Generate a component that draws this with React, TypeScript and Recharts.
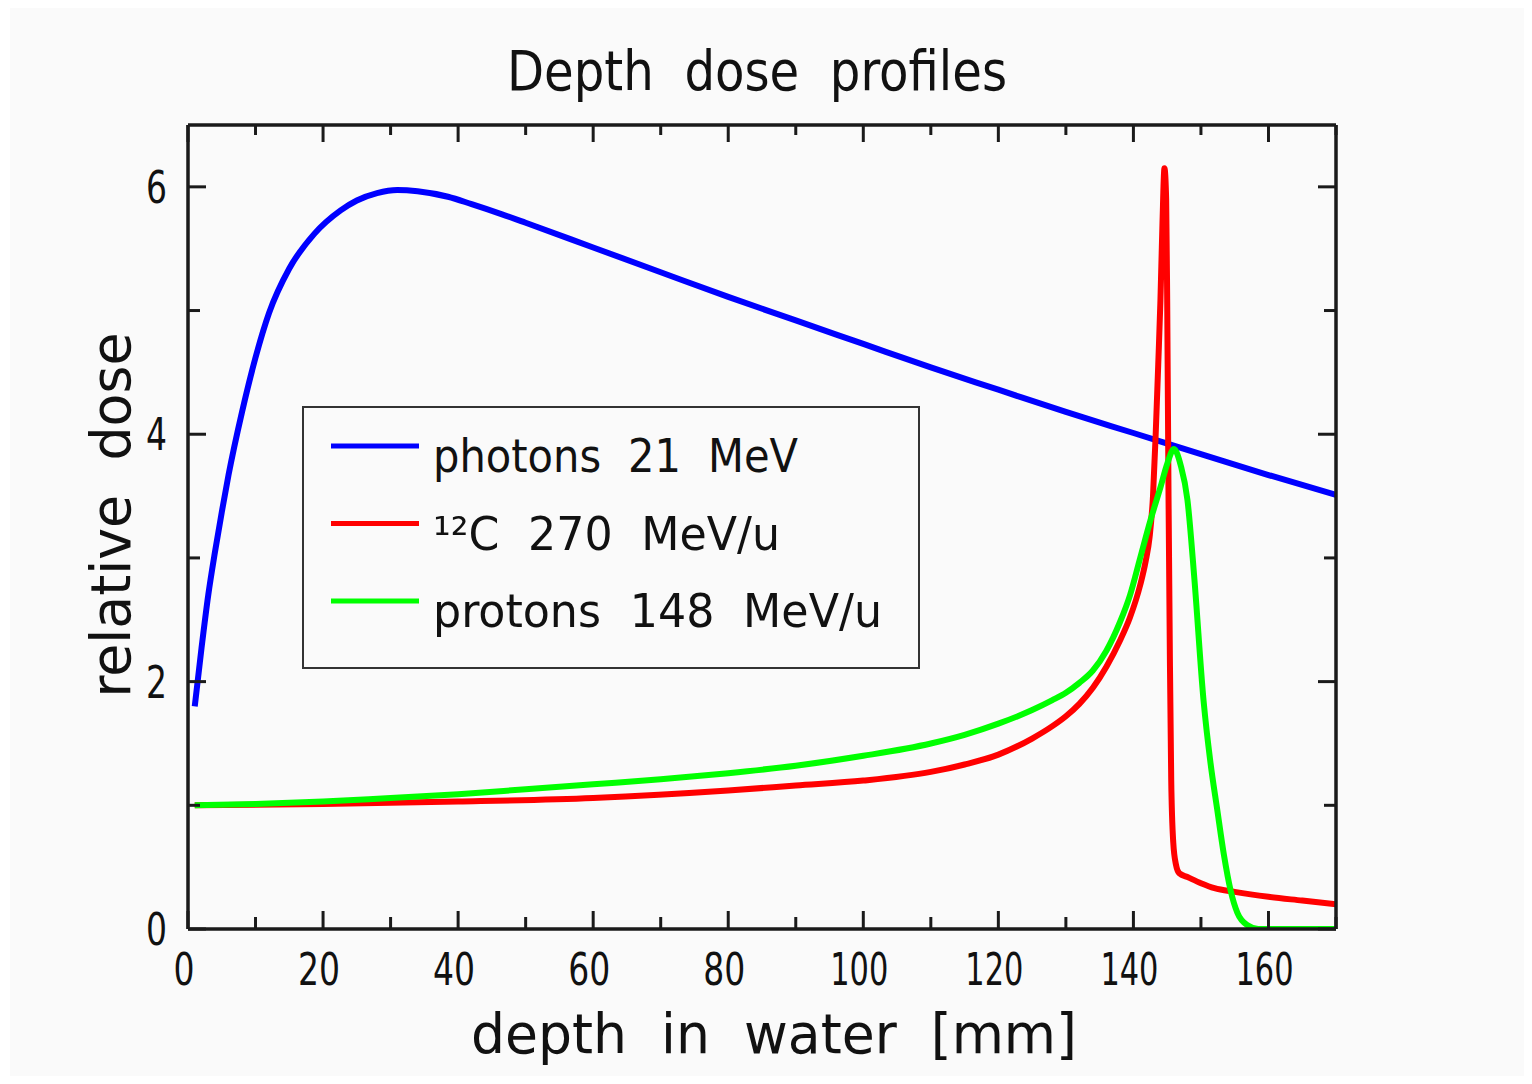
import { LineChart, Line, XAxis, YAxis, Legend } from "recharts"

const FONT = '"DejaVu Sans Condensed", "DejaVu Sans", sans-serif'
const INK = "#1a1a1a"
const PANEL = "#fafafa"

// depth in mm, relative dose
const photonDepth = [1, 2, 3, 4, 5, 6, 8, 10, 12, 15, 18.7, 22.6, 25, 28, 31, 34, 38.5, 42, 46.4, 50, 60, 70, 80, 90, 100, 110, 120, 130, 140, 150, 160, 170]
const photonDose = [1.8, 2.27, 2.7, 3.05, 3.37, 3.67, 4.18, 4.62, 4.98, 5.34, 5.62, 5.81, 5.89, 5.95, 5.975, 5.965, 5.92, 5.86, 5.78, 5.71, 5.51, 5.31, 5.11, 4.92, 4.73, 4.54, 4.36, 4.18, 4.01, 3.84, 3.67, 3.51]

const carbonDepth = [1, 20, 40, 60, 80, 90, 100, 110, 115, 120, 125, 128, 130, 132, 134, 136, 138, 139.5, 141, 141.8, 142.4, 142.9, 143.3, 143.7, 144.0, 144.3, 144.6, 144.85, 145.0, 145.2, 145.4, 145.6, 145.9, 146.3, 146.8, 148, 150, 152, 155, 160, 165, 170]
const carbonDose = [1.0, 1.01, 1.03, 1.06, 1.12, 1.16, 1.2, 1.27, 1.33, 1.41, 1.54, 1.64, 1.72, 1.82, 1.95, 2.12, 2.33, 2.52, 2.78, 2.97, 3.17, 3.5, 4.0, 4.6, 5.08, 5.7, 6.15, 5.9, 5.1, 3.5, 2.2, 1.2, 0.7, 0.52, 0.45, 0.42, 0.37, 0.33, 0.3, 0.26, 0.23, 0.2]

const protonDepth = [1, 10, 20, 30, 40, 50, 60, 70, 80, 90, 100, 110, 115, 120, 125, 128, 130, 132, 134, 136, 138, 139.5, 141, 142.5, 144, 145, 146, 147, 148, 149, 150.4, 151.4, 152.4, 153.4, 154.4, 155.4, 156.9, 158.5, 165, 170]
const protonDose = [1.0, 1.01, 1.03, 1.06, 1.09, 1.13, 1.17, 1.21, 1.26, 1.32, 1.4, 1.5, 1.57, 1.66, 1.77, 1.85, 1.91, 1.99, 2.09, 2.25, 2.48, 2.7, 3.0, 3.3, 3.57, 3.76, 3.88, 3.75, 3.47, 2.85, 1.84, 1.35, 0.97, 0.6, 0.31, 0.13, 0.03, 0, 0, 0]

const seriesNames = ["photons 21 MeV", "\u00B9\u00B2C 270 MeV/u", "protons 148 MeV/u"]
const seriesColors = ["#0000ff", "#ff0000", "#00ff00"]
const legendWidths = [365, 347, 449]

const xTicks = [0, 10, 20, 30, 40, 50, 60, 70, 80, 90, 100, 110, 120, 130, 140, 150, 160, 170]
const yTicks = [0, 1, 2, 3, 4, 5, 6]

const toPoints = (depth: number[], dose: number[]) => depth.map((d, i) => ({ depth: d, dose: dose[i] }))

const series = [
  toPoints(photonDepth, photonDose),
  toPoints(carbonDepth, carbonDose),
  toPoints(protonDepth, protonDose),
]

const textStyle = { fontFamily: FONT, fill: "#111" }

const digitWidth = (v: number) => {
  const s = String(v)
  return s.length * 21 - (s.split("1").length - 1) * 5
}

function BottomTick({ x, y, payload }: any) {
  const major = payload.value % 20 === 0
  return (
    <g>
      <line x1={x} y1={y} x2={x} y2={y - (major ? 18 : 12)} stroke={INK} strokeWidth={3} />
      {major && (
        <text x={x - 4} y={y + 56} textAnchor="middle" fontSize={45} textLength={digitWidth(payload.value)} lengthAdjust="spacingAndGlyphs" style={textStyle}>
          {payload.value}
        </text>
      )}
    </g>
  )
}

function TopTick({ x, y, payload }: any) {
  const major = payload.value % 20 === 0
  return <line x1={x} y1={y} x2={x} y2={y + (major ? 17 : 10)} stroke={INK} strokeWidth={3} />
}

function LeftTick({ x, y, payload }: any) {
  const major = payload.value % 2 === 0
  return (
    <g>
      <line x1={x} y1={y} x2={x + (major ? 18 : 12)} y2={y} stroke={INK} strokeWidth={3} />
      {major && (
        <text x={x - 21} y={y + 16} textAnchor="end" fontSize={45} textLength={digitWidth(payload.value)} lengthAdjust="spacingAndGlyphs" style={textStyle}>
          {payload.value}
        </text>
      )}
    </g>
  )
}

function RightTick({ x, y, payload }: any) {
  const major = payload.value % 2 === 0
  return <line x1={x} y1={y} x2={x - (major ? 18 : 12)} y2={y} stroke={INK} strokeWidth={3} />
}

function DoseLegend({ payload }: any) {
  const items = [...(payload || [])]
    .filter((e: any) => seriesNames.includes(e.value))
    .sort((a: any, b: any) => seriesNames.indexOf(a.value) - seriesNames.indexOf(b.value))
  return (
    <svg width={618} height={263}>
      <rect x={1} y={1} width={616} height={261} fill={PANEL} stroke="#333" strokeWidth={2} />
      {items.map((entry: any, i: number) => (
        <g key={entry.value}>
          <line x1={29} x2={117} y1={40 + i * 77.5} y2={40 + i * 77.5} stroke={entry.color} strokeWidth={5} />
          <text
            x={131}
            y={66 + i * 77.5}
            fontSize={47}
            textLength={legendWidths[seriesNames.indexOf(entry.value)]}
            lengthAdjust="spacingAndGlyphs"
            style={{ ...textStyle, wordSpacing: 14 }}
          >
            {entry.value}
          </text>
        </g>
      ))}
    </svg>
  )
}

const titleStyle = { ...textStyle, wordSpacing: 16 }

export default function App() {
  return (
    <div style={{ margin: -8, width: 1532, height: 1084, background: "#fff", position: "relative" }}>
      <div style={{ position: "absolute", left: 10, top: 3, width: 1522, height: 1081, background: PANEL }} />
      <div style={{ position: "absolute", left: 0, top: 0 }}>
        <LineChart width={1532} height={1084} margin={{ top: 124, right: 195, bottom: 95, left: 88 }}>
          <XAxis
            xAxisId="bottom"
            dataKey="depth"
            type="number"
            domain={[0, 170]}
            ticks={xTicks}
            interval={0}
            height={60}
            tickSize={0}
            tickMargin={0}
            tickLine={false}
            tick={<BottomTick />}
            axisLine={{ stroke: INK, strokeWidth: 3.5 }}
            allowDataOverflow
            label={{
              content: ({ viewBox }: any) => (
                <text x={viewBox.x + viewBox.width / 2 + 12} y={viewBox.y + 124} textAnchor="middle" fontSize={56} textLength={606} lengthAdjust="spacingAndGlyphs" style={titleStyle}>
                  depth in water [mm]
                </text>
              ),
            }}
          />
          <XAxis
            xAxisId="top"
            orientation="top"
            dataKey="depth"
            type="number"
            domain={[0, 170]}
            ticks={xTicks}
            interval={0}
            height={1}
            tickSize={0}
            tickMargin={0}
            tickLine={false}
            tick={<TopTick />}
            axisLine={{ stroke: INK, strokeWidth: 3.5 }}
            allowDataOverflow
            label={{
              content: ({ viewBox }: any) => (
                <text x={viewBox.x + viewBox.width / 2 - 5} y={viewBox.y - 34} textAnchor="middle" fontSize={56} textLength={500} lengthAdjust="spacingAndGlyphs" style={titleStyle}>
                  Depth dose profiles
                </text>
              ),
            }}
          />
          <YAxis
            yAxisId="left"
            type="number"
            domain={[0, 6.5]}
            ticks={yTicks}
            interval={0}
            width={100}
            tickSize={0}
            tickMargin={0}
            tickLine={false}
            tick={<LeftTick />}
            axisLine={{ stroke: INK, strokeWidth: 3.5 }}
            allowDataOverflow
            label={{
              content: ({ viewBox }: any) => {
                const cx = viewBox.x + 42
                const cy = viewBox.y + viewBox.height / 2 - 12
                return (
                  <text x={cx} y={cy} transform={`rotate(-90, ${cx}, ${cy})`} textAnchor="middle" fontSize={55} textLength={365} lengthAdjust="spacingAndGlyphs" style={titleStyle}>
                    relative dose
                  </text>
                )
              },
            }}
          />
          <YAxis
            yAxisId="right"
            orientation="right"
            type="number"
            domain={[0, 6.5]}
            ticks={yTicks}
            interval={0}
            width={1}
            tickSize={0}
            tickMargin={0}
            tickLine={false}
            tick={<RightTick />}
            axisLine={{ stroke: INK, strokeWidth: 3.5 }}
            allowDataOverflow
          />
          <Legend
            layout="horizontal"
            verticalAlign="middle"
            align="center"
            content={<DoseLegend />}
            wrapperStyle={{ left: 302, top: 406, width: 618, height: 263 }}
          />
          {series.map((points, i) => (
            <Line
              key={seriesNames[i]}
              xAxisId="bottom"
              yAxisId="left"
              data={points}
              dataKey="dose"
              name={seriesNames[i]}
              type="monotone"
              stroke={seriesColors[i]}
              strokeWidth={6}
              strokeLinejoin="round"
              dot={false}
              activeDot={false}
              isAnimationActive={false}
            />
          ))}
          {/* invisible series so the mirrored top/right axes get a domain and draw */}
          <Line
            xAxisId="top"
            yAxisId="right"
            data={series[0]}
            dataKey="dose"
            stroke="none"
            legendType="none"
            dot={false}
            activeDot={false}
            isAnimationActive={false}
          />
        </LineChart>
      </div>
    </div>
  )
}
